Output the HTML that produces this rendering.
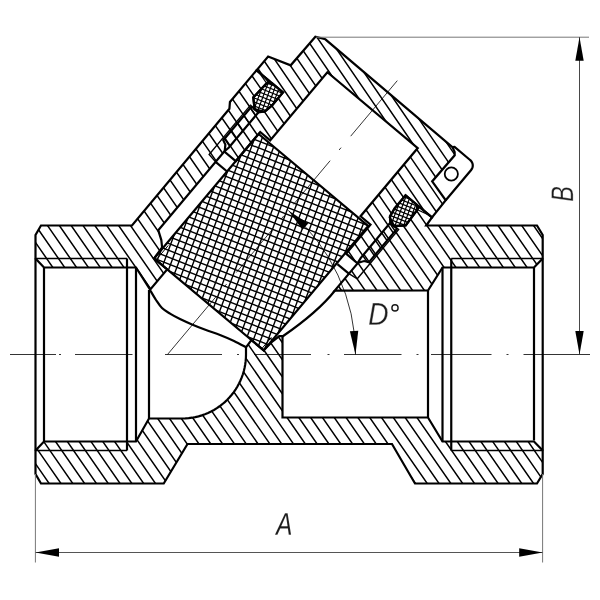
<!DOCTYPE html>
<html><head><meta charset="utf-8"><style>
html,body{margin:0;padding:0;background:#fff;}
svg{display:block;}
text{font-family:"Liberation Sans",sans-serif;font-style:italic;fill:#111;}
</style></head><body>
<svg width="600" height="600" viewBox="0 0 600 600">
<rect width="600" height="600" fill="#fff"/>
<defs><clipPath id="btl"><path d="M35.50 235.00 L41.00 225.50 L132.00 225.50 L229.41 108.81 L229.94 101.95 L256.55 70.24 L269.19 80.84 L253.26 97.50 L254.63 109.09 L258.46 112.31 L228.89 147.54 L224.27 151.50 L158.26 230.17 L161.32 240.05 L162.10 247.37 L154.13 258.43 L167.15 269.35 L150.11 289.65 L136.00 267.50 L44.00 267.50 L35.50 258.50 Z"/></clipPath>
<clipPath id="bbot"><path d="M35.50 450.50 L44.00 441.50 L136.00 441.50 L149.00 418.50 L182.00 418.50 L185.35 418.41 L188.69 418.15 L192.01 417.71 L195.31 417.10 L198.56 416.32 L201.78 415.37 L204.94 414.25 L208.03 412.97 L211.06 411.52 L214.00 409.93 L216.86 408.17 L219.62 406.28 L222.28 404.24 L224.82 402.06 L227.25 399.75 L229.56 397.32 L231.74 394.78 L233.78 392.12 L235.67 389.36 L237.43 386.50 L239.02 383.56 L240.47 380.53 L241.75 377.44 L242.87 374.28 L243.82 371.06 L244.60 367.81 L245.21 364.51 L245.65 361.19 L245.91 357.85 L246.00 354.50 L246.00 347.30 L251.41 340.06 L263.67 350.35 L272.60 341.26 L279.31 336.06 L282.50 336.00 L282.50 417.50 L428.00 417.50 L442.50 441.50 L534.00 441.50 L542.70 450.50 L542.70 474.00 L537.00 483.50 L415.00 483.50 L392.00 444.00 L187.50 444.00 L163.75 483.50 L41.00 483.50 L35.50 474.00 Z"/></clipPath>
<clipPath id="btr"><path d="M426.25 225.50 L537.00 225.50 L542.70 235.00 L542.70 258.50 L534.00 267.50 L442.50 267.50 L428.00 290.50 L334.74 290.54 L357.56 263.34 L360.65 258.10 L390.22 222.86 L394.05 226.08 L405.70 225.41 L419.34 206.83 L431.98 217.44 Z"/></clipPath>
<clipPath id="cap"><path d="M315.37 36.70 L290.69 65.34 L268.12 56.45 L256.55 70.24 L282.98 92.41 L272.06 105.44 L265.12 111.37 L258.46 112.31 L251.57 106.52 L223.28 140.23 L225.37 144.59 L224.65 151.82 L235.76 161.14 L260.19 132.03 L270.14 140.39 L327.35 72.21 L417.75 148.06 L360.54 216.23 L370.50 224.59 L346.07 253.70 L357.18 263.02 L364.18 261.06 L368.83 262.36 L397.11 228.65 L390.22 222.86 L389.99 216.14 L394.62 208.28 L405.55 195.26 L431.98 217.44 L445.74 200.26 L432.16 181.43 L454.72 155.33 L454.65 152.00 L452.45 147.15 L325.33 39.31 Z"/></clipPath>
<clipPath id="mesh"><path d="M154.13 258.43 L263.67 350.35 L368.12 225.86 L258.58 133.94 Z"/></clipPath>
<clipPath id="orl"><path d="M282.98 92.41 L271.49 82.77 L266.24 83.59 L253.26 97.50 L254.63 109.09 L264.10 111.81 L272.06 105.44 Z"/></clipPath>
<clipPath id="orr"><path d="M405.55 195.26 L417.04 204.90 L417.15 210.22 L405.70 225.41 L394.05 226.08 L389.73 217.23 L394.62 208.28 Z"/></clipPath></defs>
<g clip-path="url(#btl)"><path d="M-417.12 0.00 L-1.19 600.00 M-405.26 0.00 L10.66 600.00 M-393.40 0.00 L22.52 600.00 M-381.55 0.00 L34.38 600.00 M-369.69 0.00 L46.23 600.00 M-357.84 0.00 L58.09 600.00 M-345.98 0.00 L69.94 600.00 M-334.12 0.00 L81.80 600.00 M-322.27 0.00 L93.66 600.00 M-310.41 0.00 L105.51 600.00 M-298.56 0.00 L117.37 600.00 M-286.70 0.00 L129.22 600.00 M-274.84 0.00 L141.08 600.00 M-262.99 0.00 L152.94 600.00 M-251.13 0.00 L164.79 600.00 M-239.28 0.00 L176.65 600.00 M-227.42 0.00 L188.50 600.00 M-215.56 0.00 L200.36 600.00 M-203.71 0.00 L212.22 600.00 M-191.85 0.00 L224.07 600.00 M-180.00 0.00 L235.93 600.00 M-168.14 0.00 L247.78 600.00 M-156.28 0.00 L259.64 600.00 M-144.43 0.00 L271.50 600.00 M-132.57 0.00 L283.35 600.00 M-120.72 0.00 L295.21 600.00 M-108.86 0.00 L307.06 600.00 M-97.00 0.00 L318.92 600.00 M-85.15 0.00 L330.78 600.00 M-73.29 0.00 L342.63 600.00 M-61.44 0.00 L354.49 600.00 M-49.58 0.00 L366.34 600.00 M-37.72 0.00 L378.20 600.00 M-25.87 0.00 L390.06 600.00 M-14.01 0.00 L401.91 600.00 M-2.16 0.00 L413.77 600.00 M9.70 0.00 L425.62 600.00 M21.56 0.00 L437.48 600.00 M33.41 0.00 L449.34 600.00 M45.27 0.00 L461.19 600.00 M57.12 0.00 L473.05 600.00 M68.98 0.00 L484.90 600.00 M80.84 0.00 L496.76 600.00 M92.69 0.00 L508.62 600.00 M104.55 0.00 L520.47 600.00 M116.40 0.00 L532.33 600.00 M128.26 0.00 L544.18 600.00 M140.12 0.00 L556.04 600.00 M151.97 0.00 L567.90 600.00 M163.83 0.00 L579.75 600.00 M175.68 0.00 L591.61 600.00 M187.54 0.00 L603.46 600.00 M199.40 0.00 L615.32 600.00 M211.25 0.00 L627.18 600.00 M223.11 0.00 L639.03 600.00 M234.96 0.00 L650.89 600.00 M246.82 0.00 L662.74 600.00 M258.68 0.00 L674.60 600.00 M270.53 0.00 L686.46 600.00 M282.39 0.00 L698.31 600.00 M294.24 0.00 L710.17 600.00 M306.10 0.00 L722.02 600.00 M317.96 0.00 L733.88 600.00 M329.81 0.00 L745.74 600.00 M341.67 0.00 L757.59 600.00 M353.52 0.00 L769.45 600.00 M365.38 0.00 L781.30 600.00 M377.24 0.00 L793.16 600.00 M389.09 0.00 L805.02 600.00 M400.95 0.00 L816.87 600.00 M412.80 0.00 L828.73 600.00 M424.66 0.00 L840.58 600.00 M436.52 0.00 L852.44 600.00 M448.37 0.00 L864.30 600.00 M460.23 0.00 L876.15 600.00 M472.08 0.00 L888.01 600.00 M483.94 0.00 L899.86 600.00 M495.80 0.00 L911.72 600.00 M507.65 0.00 L923.58 600.00 M519.51 0.00 L935.43 600.00 M531.36 0.00 L947.29 600.00 M543.22 0.00 L959.14 600.00 M555.08 0.00 L971.00 600.00 M566.93 0.00 L982.86 600.00 M578.79 0.00 L994.71 600.00 M590.64 0.00 L1006.57 600.00 M602.50 0.00 L1018.42 600.00" stroke="#000" stroke-width="1.5" fill="none" /></g>
<g clip-path="url(#bbot)"><path d="M-415.95 0.00 L-0.03 600.00 M-404.13 0.00 L11.79 600.00 M-392.32 0.00 L23.60 600.00 M-380.50 0.00 L35.42 600.00 M-368.69 0.00 L47.23 600.00 M-356.88 0.00 L59.05 600.00 M-345.06 0.00 L70.86 600.00 M-333.25 0.00 L82.68 600.00 M-321.43 0.00 L94.49 600.00 M-309.62 0.00 L106.31 600.00 M-297.80 0.00 L118.12 600.00 M-285.99 0.00 L129.94 600.00 M-274.17 0.00 L141.75 600.00 M-262.36 0.00 L153.57 600.00 M-250.54 0.00 L165.38 600.00 M-238.72 0.00 L177.20 600.00 M-226.91 0.00 L189.01 600.00 M-215.09 0.00 L200.83 600.00 M-203.28 0.00 L212.64 600.00 M-191.46 0.00 L224.46 600.00 M-179.65 0.00 L236.27 600.00 M-167.83 0.00 L248.09 600.00 M-156.02 0.00 L259.90 600.00 M-144.20 0.00 L271.72 600.00 M-132.39 0.00 L283.53 600.00 M-120.58 0.00 L295.35 600.00 M-108.76 0.00 L307.16 600.00 M-96.94 0.00 L318.98 600.00 M-85.13 0.00 L330.79 600.00 M-73.31 0.00 L342.61 600.00 M-61.50 0.00 L354.42 600.00 M-49.68 0.00 L366.24 600.00 M-37.87 0.00 L378.05 600.00 M-26.05 0.00 L389.87 600.00 M-14.24 0.00 L401.68 600.00 M-2.42 0.00 L413.50 600.00 M9.39 0.00 L425.31 600.00 M21.20 0.00 L437.13 600.00 M33.02 0.00 L448.94 600.00 M44.84 0.00 L460.76 600.00 M56.65 0.00 L472.57 600.00 M68.47 0.00 L484.39 600.00 M80.28 0.00 L496.20 600.00 M92.09 0.00 L508.02 600.00 M103.91 0.00 L519.83 600.00 M115.72 0.00 L531.65 600.00 M127.54 0.00 L543.46 600.00 M139.36 0.00 L555.28 600.00 M151.17 0.00 L567.09 600.00 M162.99 0.00 L578.91 600.00 M174.80 0.00 L590.72 600.00 M186.62 0.00 L602.54 600.00 M198.43 0.00 L614.35 600.00 M210.25 0.00 L626.17 600.00 M222.06 0.00 L637.98 600.00 M233.88 0.00 L649.80 600.00 M245.69 0.00 L661.61 600.00 M257.50 0.00 L673.43 600.00 M269.32 0.00 L685.24 600.00 M281.13 0.00 L697.06 600.00 M292.95 0.00 L708.87 600.00 M304.76 0.00 L720.69 600.00 M316.58 0.00 L732.50 600.00 M328.39 0.00 L744.32 600.00 M340.21 0.00 L756.13 600.00 M352.02 0.00 L767.95 600.00 M363.84 0.00 L779.76 600.00 M375.65 0.00 L791.58 600.00 M387.47 0.00 L803.39 600.00 M399.28 0.00 L815.21 600.00 M411.10 0.00 L827.02 600.00 M422.91 0.00 L838.84 600.00 M434.73 0.00 L850.65 600.00 M446.54 0.00 L862.47 600.00 M458.36 0.00 L874.28 600.00 M470.17 0.00 L886.10 600.00 M481.99 0.00 L897.91 600.00 M493.80 0.00 L909.73 600.00 M505.62 0.00 L921.54 600.00 M517.43 0.00 L933.36 600.00 M529.25 0.00 L945.17 600.00 M541.06 0.00 L956.99 600.00 M552.88 0.00 L968.80 600.00 M564.69 0.00 L980.62 600.00 M576.51 0.00 L992.43 600.00 M588.32 0.00 L1004.25 600.00 M600.14 0.00 L1016.06 600.00" stroke="#000" stroke-width="1.5" fill="none" /></g>
<g clip-path="url(#btr)"><path d="M-417.12 0.00 L-1.19 600.00 M-405.26 0.00 L10.66 600.00 M-393.40 0.00 L22.52 600.00 M-381.55 0.00 L34.38 600.00 M-369.69 0.00 L46.23 600.00 M-357.84 0.00 L58.09 600.00 M-345.98 0.00 L69.94 600.00 M-334.12 0.00 L81.80 600.00 M-322.27 0.00 L93.66 600.00 M-310.41 0.00 L105.51 600.00 M-298.56 0.00 L117.37 600.00 M-286.70 0.00 L129.22 600.00 M-274.84 0.00 L141.08 600.00 M-262.99 0.00 L152.94 600.00 M-251.13 0.00 L164.79 600.00 M-239.28 0.00 L176.65 600.00 M-227.42 0.00 L188.50 600.00 M-215.56 0.00 L200.36 600.00 M-203.71 0.00 L212.22 600.00 M-191.85 0.00 L224.07 600.00 M-180.00 0.00 L235.93 600.00 M-168.14 0.00 L247.78 600.00 M-156.28 0.00 L259.64 600.00 M-144.43 0.00 L271.50 600.00 M-132.57 0.00 L283.35 600.00 M-120.72 0.00 L295.21 600.00 M-108.86 0.00 L307.06 600.00 M-97.00 0.00 L318.92 600.00 M-85.15 0.00 L330.78 600.00 M-73.29 0.00 L342.63 600.00 M-61.44 0.00 L354.49 600.00 M-49.58 0.00 L366.34 600.00 M-37.72 0.00 L378.20 600.00 M-25.87 0.00 L390.06 600.00 M-14.01 0.00 L401.91 600.00 M-2.16 0.00 L413.77 600.00 M9.70 0.00 L425.62 600.00 M21.56 0.00 L437.48 600.00 M33.41 0.00 L449.34 600.00 M45.27 0.00 L461.19 600.00 M57.12 0.00 L473.05 600.00 M68.98 0.00 L484.90 600.00 M80.84 0.00 L496.76 600.00 M92.69 0.00 L508.62 600.00 M104.55 0.00 L520.47 600.00 M116.40 0.00 L532.33 600.00 M128.26 0.00 L544.18 600.00 M140.12 0.00 L556.04 600.00 M151.97 0.00 L567.90 600.00 M163.83 0.00 L579.75 600.00 M175.68 0.00 L591.61 600.00 M187.54 0.00 L603.46 600.00 M199.40 0.00 L615.32 600.00 M211.25 0.00 L627.18 600.00 M223.11 0.00 L639.03 600.00 M234.96 0.00 L650.89 600.00 M246.82 0.00 L662.74 600.00 M258.68 0.00 L674.60 600.00 M270.53 0.00 L686.46 600.00 M282.39 0.00 L698.31 600.00 M294.24 0.00 L710.17 600.00 M306.10 0.00 L722.02 600.00 M317.96 0.00 L733.88 600.00 M329.81 0.00 L745.74 600.00 M341.67 0.00 L757.59 600.00 M353.52 0.00 L769.45 600.00 M365.38 0.00 L781.30 600.00 M377.24 0.00 L793.16 600.00 M389.09 0.00 L805.02 600.00 M400.95 0.00 L816.87 600.00 M412.80 0.00 L828.73 600.00 M424.66 0.00 L840.58 600.00 M436.52 0.00 L852.44 600.00 M448.37 0.00 L864.30 600.00 M460.23 0.00 L876.15 600.00 M472.08 0.00 L888.01 600.00 M483.94 0.00 L899.86 600.00 M495.80 0.00 L911.72 600.00 M507.65 0.00 L923.58 600.00 M519.51 0.00 L935.43 600.00 M531.36 0.00 L947.29 600.00 M543.22 0.00 L959.14 600.00 M555.08 0.00 L971.00 600.00 M566.93 0.00 L982.86 600.00 M578.79 0.00 L994.71 600.00 M590.64 0.00 L1006.57 600.00 M602.50 0.00 L1018.42 600.00" stroke="#000" stroke-width="1.5" fill="none" /></g>
<g clip-path="url(#cap)"><path d="M-421.50 0.00 L-11.13 600.00 M-410.00 0.00 L0.37 600.00 M-398.50 0.00 L11.87 600.00 M-387.00 0.00 L23.37 600.00 M-375.50 0.00 L34.87 600.00 M-364.00 0.00 L46.37 600.00 M-352.50 0.00 L57.87 600.00 M-341.00 0.00 L69.37 600.00 M-329.50 0.00 L80.87 600.00 M-318.00 0.00 L92.37 600.00 M-306.50 0.00 L103.87 600.00 M-295.00 0.00 L115.37 600.00 M-283.50 0.00 L126.87 600.00 M-272.00 0.00 L138.37 600.00 M-260.50 0.00 L149.87 600.00 M-249.00 0.00 L161.37 600.00 M-237.50 0.00 L172.87 600.00 M-226.00 0.00 L184.37 600.00 M-214.50 0.00 L195.87 600.00 M-203.00 0.00 L207.37 600.00 M-191.50 0.00 L218.87 600.00 M-180.00 0.00 L230.37 600.00 M-168.50 0.00 L241.87 600.00 M-157.00 0.00 L253.37 600.00 M-145.50 0.00 L264.87 600.00 M-134.00 0.00 L276.37 600.00 M-122.50 0.00 L287.87 600.00 M-111.00 0.00 L299.37 600.00 M-99.50 0.00 L310.87 600.00 M-88.00 0.00 L322.37 600.00 M-76.50 0.00 L333.87 600.00 M-65.00 0.00 L345.37 600.00 M-53.50 0.00 L356.87 600.00 M-42.00 0.00 L368.37 600.00 M-30.50 0.00 L379.87 600.00 M-19.00 0.00 L391.37 600.00 M-7.50 0.00 L402.87 600.00 M4.00 0.00 L414.37 600.00 M15.50 0.00 L425.87 600.00 M27.00 0.00 L437.37 600.00 M38.50 0.00 L448.87 600.00 M50.00 0.00 L460.37 600.00 M61.50 0.00 L471.87 600.00 M73.00 0.00 L483.37 600.00 M84.50 0.00 L494.87 600.00 M96.00 0.00 L506.37 600.00 M107.50 0.00 L517.87 600.00 M119.00 0.00 L529.37 600.00 M130.50 0.00 L540.87 600.00 M142.00 0.00 L552.37 600.00 M153.50 0.00 L563.87 600.00 M165.00 0.00 L575.37 600.00 M176.50 0.00 L586.87 600.00 M188.00 0.00 L598.37 600.00 M199.50 0.00 L609.87 600.00 M211.00 0.00 L621.37 600.00 M222.50 0.00 L632.87 600.00 M234.00 0.00 L644.37 600.00 M245.50 0.00 L655.87 600.00 M257.00 0.00 L667.37 600.00 M268.50 0.00 L678.87 600.00 M280.00 0.00 L690.37 600.00 M291.50 0.00 L701.87 600.00 M303.00 0.00 L713.37 600.00 M314.50 0.00 L724.87 600.00 M326.00 0.00 L736.37 600.00 M337.50 0.00 L747.87 600.00 M349.00 0.00 L759.37 600.00 M360.50 0.00 L770.87 600.00 M372.00 0.00 L782.37 600.00 M383.50 0.00 L793.87 600.00 M395.00 0.00 L805.37 600.00 M406.50 0.00 L816.87 600.00 M418.00 0.00 L828.37 600.00 M429.50 0.00 L839.87 600.00 M441.00 0.00 L851.37 600.00 M452.50 0.00 L862.87 600.00 M464.00 0.00 L874.37 600.00 M475.50 0.00 L885.87 600.00 M487.00 0.00 L897.37 600.00 M498.50 0.00 L908.87 600.00 M510.00 0.00 L920.37 600.00 M521.50 0.00 L931.87 600.00 M533.00 0.00 L943.37 600.00 M544.50 0.00 L954.87 600.00 M556.00 0.00 L966.37 600.00 M567.50 0.00 L977.87 600.00 M579.00 0.00 L989.37 600.00 M590.50 0.00 L1000.87 600.00 M602.00 0.00 L1012.37 600.00" stroke="#000" stroke-width="1.5" fill="none" /></g>
<g clip-path="url(#mesh)"><path d="M-1534.40 0.00 L-11.21 600.00 M-1516.90 0.00 L6.29 600.00 M-1499.40 0.00 L23.79 600.00 M-1481.90 0.00 L41.29 600.00 M-1464.40 0.00 L58.79 600.00 M-1446.90 0.00 L76.29 600.00 M-1429.40 0.00 L93.79 600.00 M-1411.90 0.00 L111.29 600.00 M-1394.40 0.00 L128.79 600.00 M-1376.90 0.00 L146.29 600.00 M-1359.40 0.00 L163.79 600.00 M-1341.90 0.00 L181.29 600.00 M-1324.40 0.00 L198.79 600.00 M-1306.90 0.00 L216.29 600.00 M-1289.40 0.00 L233.79 600.00 M-1271.90 0.00 L251.29 600.00 M-1254.40 0.00 L268.79 600.00 M-1236.90 0.00 L286.29 600.00 M-1219.40 0.00 L303.79 600.00 M-1201.90 0.00 L321.29 600.00 M-1184.40 0.00 L338.79 600.00 M-1166.90 0.00 L356.29 600.00 M-1149.40 0.00 L373.79 600.00 M-1131.90 0.00 L391.29 600.00 M-1114.40 0.00 L408.79 600.00 M-1096.90 0.00 L426.29 600.00 M-1079.40 0.00 L443.79 600.00 M-1061.90 0.00 L461.29 600.00 M-1044.40 0.00 L478.79 600.00 M-1026.90 0.00 L496.29 600.00 M-1009.40 0.00 L513.79 600.00 M-991.90 0.00 L531.29 600.00 M-974.40 0.00 L548.79 600.00 M-956.90 0.00 L566.29 600.00 M-939.40 0.00 L583.79 600.00 M-921.90 0.00 L601.29 600.00 M-904.40 0.00 L618.79 600.00 M-886.90 0.00 L636.29 600.00 M-869.40 0.00 L653.79 600.00 M-851.90 0.00 L671.29 600.00 M-834.40 0.00 L688.79 600.00 M-816.90 0.00 L706.29 600.00 M-799.40 0.00 L723.79 600.00 M-781.90 0.00 L741.29 600.00 M-764.40 0.00 L758.79 600.00 M-746.90 0.00 L776.29 600.00 M-729.40 0.00 L793.79 600.00 M-711.90 0.00 L811.29 600.00 M-694.40 0.00 L828.79 600.00 M-676.90 0.00 L846.29 600.00 M-659.40 0.00 L863.79 600.00 M-641.90 0.00 L881.29 600.00 M-624.40 0.00 L898.79 600.00 M-606.90 0.00 L916.29 600.00 M-589.40 0.00 L933.79 600.00 M-571.90 0.00 L951.29 600.00 M-554.40 0.00 L968.79 600.00 M-536.90 0.00 L986.29 600.00 M-519.40 0.00 L1003.79 600.00 M-501.90 0.00 L1021.29 600.00 M-484.40 0.00 L1038.79 600.00 M-466.90 0.00 L1056.29 600.00 M-449.40 0.00 L1073.79 600.00 M-431.90 0.00 L1091.29 600.00 M-414.40 0.00 L1108.79 600.00 M-396.90 0.00 L1126.29 600.00 M-379.40 0.00 L1143.79 600.00 M-361.90 0.00 L1161.29 600.00 M-344.40 0.00 L1178.79 600.00 M-326.90 0.00 L1196.29 600.00 M-309.40 0.00 L1213.79 600.00 M-291.90 0.00 L1231.29 600.00 M-274.40 0.00 L1248.79 600.00 M-256.90 0.00 L1266.29 600.00 M-239.40 0.00 L1283.79 600.00 M-221.90 0.00 L1301.29 600.00 M-204.40 0.00 L1318.79 600.00 M-186.90 0.00 L1336.29 600.00 M-169.40 0.00 L1353.79 600.00 M-151.90 0.00 L1371.29 600.00 M-134.40 0.00 L1388.79 600.00 M-116.90 0.00 L1406.29 600.00 M-99.40 0.00 L1423.79 600.00 M-81.90 0.00 L1441.29 600.00 M-64.40 0.00 L1458.79 600.00 M-46.90 0.00 L1476.29 600.00 M-29.40 0.00 L1493.79 600.00 M-11.90 0.00 L1511.29 600.00 M5.60 0.00 L1528.79 600.00 M23.10 0.00 L1546.29 600.00 M40.60 0.00 L1563.79 600.00 M58.10 0.00 L1581.29 600.00 M75.60 0.00 L1598.79 600.00 M93.10 0.00 L1616.29 600.00 M110.60 0.00 L1633.79 600.00 M128.10 0.00 L1651.29 600.00 M145.60 0.00 L1668.79 600.00 M163.10 0.00 L1686.29 600.00 M180.60 0.00 L1703.79 600.00 M198.10 0.00 L1721.29 600.00 M215.60 0.00 L1738.79 600.00 M233.10 0.00 L1756.29 600.00 M250.60 0.00 L1773.79 600.00 M268.10 0.00 L1791.29 600.00 M285.60 0.00 L1808.79 600.00 M303.10 0.00 L1826.29 600.00 M320.60 0.00 L1843.79 600.00 M338.10 0.00 L1861.29 600.00 M355.60 0.00 L1878.79 600.00 M373.10 0.00 L1896.29 600.00 M390.60 0.00 L1913.79 600.00 M408.10 0.00 L1931.29 600.00 M425.60 0.00 L1948.79 600.00 M443.10 0.00 L1966.29 600.00 M460.60 0.00 L1983.79 600.00 M478.10 0.00 L2001.29 600.00 M495.60 0.00 L2018.79 600.00 M513.10 0.00 L2036.29 600.00 M530.60 0.00 L2053.79 600.00 M548.10 0.00 L2071.29 600.00 M565.60 0.00 L2088.79 600.00 M583.10 0.00 L2106.29 600.00 M600.60 0.00 L2123.79 600.00" stroke="#000" stroke-width="1.4" fill="none" /><path d="M-4.40 0.00 L-228.73 600.00 M3.00 0.00 L-221.33 600.00 M10.40 0.00 L-213.93 600.00 M17.80 0.00 L-206.53 600.00 M25.20 0.00 L-199.13 600.00 M32.60 0.00 L-191.73 600.00 M40.00 0.00 L-184.33 600.00 M47.40 0.00 L-176.93 600.00 M54.80 0.00 L-169.53 600.00 M62.20 0.00 L-162.13 600.00 M69.60 0.00 L-154.73 600.00 M77.00 0.00 L-147.33 600.00 M84.40 0.00 L-139.93 600.00 M91.80 0.00 L-132.53 600.00 M99.20 0.00 L-125.13 600.00 M106.60 0.00 L-117.73 600.00 M114.00 0.00 L-110.33 600.00 M121.40 0.00 L-102.93 600.00 M128.80 0.00 L-95.53 600.00 M136.20 0.00 L-88.13 600.00 M143.60 0.00 L-80.73 600.00 M151.00 0.00 L-73.33 600.00 M158.40 0.00 L-65.93 600.00 M165.80 0.00 L-58.53 600.00 M173.20 0.00 L-51.13 600.00 M180.60 0.00 L-43.73 600.00 M188.00 0.00 L-36.33 600.00 M195.40 0.00 L-28.93 600.00 M202.80 0.00 L-21.53 600.00 M210.20 0.00 L-14.13 600.00 M217.60 0.00 L-6.73 600.00 M225.00 0.00 L0.67 600.00 M232.40 0.00 L8.07 600.00 M239.80 0.00 L15.47 600.00 M247.20 0.00 L22.87 600.00 M254.60 0.00 L30.27 600.00 M262.00 0.00 L37.67 600.00 M269.40 0.00 L45.07 600.00 M276.80 0.00 L52.47 600.00 M284.20 0.00 L59.87 600.00 M291.60 0.00 L67.27 600.00 M299.00 0.00 L74.67 600.00 M306.40 0.00 L82.07 600.00 M313.80 0.00 L89.47 600.00 M321.20 0.00 L96.87 600.00 M328.60 0.00 L104.27 600.00 M336.00 0.00 L111.67 600.00 M343.40 0.00 L119.07 600.00 M350.80 0.00 L126.47 600.00 M358.20 0.00 L133.87 600.00 M365.60 0.00 L141.27 600.00 M373.00 0.00 L148.67 600.00 M380.40 0.00 L156.07 600.00 M387.80 0.00 L163.47 600.00 M395.20 0.00 L170.87 600.00 M402.60 0.00 L178.27 600.00 M410.00 0.00 L185.67 600.00 M417.40 0.00 L193.07 600.00 M424.80 0.00 L200.47 600.00 M432.20 0.00 L207.87 600.00 M439.60 0.00 L215.27 600.00 M447.00 0.00 L222.67 600.00 M454.40 0.00 L230.07 600.00 M461.80 0.00 L237.47 600.00 M469.20 0.00 L244.87 600.00 M476.60 0.00 L252.27 600.00 M484.00 0.00 L259.67 600.00 M491.40 0.00 L267.07 600.00 M498.80 0.00 L274.47 600.00 M506.20 0.00 L281.87 600.00 M513.60 0.00 L289.27 600.00 M521.00 0.00 L296.67 600.00 M528.40 0.00 L304.07 600.00 M535.80 0.00 L311.47 600.00 M543.20 0.00 L318.87 600.00 M550.60 0.00 L326.27 600.00 M558.00 0.00 L333.67 600.00 M565.40 0.00 L341.07 600.00 M572.80 0.00 L348.47 600.00 M580.20 0.00 L355.87 600.00 M587.60 0.00 L363.27 600.00 M595.00 0.00 L370.67 600.00 M602.40 0.00 L378.07 600.00 M609.80 0.00 L385.47 600.00 M617.20 0.00 L392.87 600.00 M624.60 0.00 L400.27 600.00 M632.00 0.00 L407.67 600.00 M639.40 0.00 L415.07 600.00 M646.80 0.00 L422.47 600.00 M654.20 0.00 L429.87 600.00 M661.60 0.00 L437.27 600.00 M669.00 0.00 L444.67 600.00 M676.40 0.00 L452.07 600.00 M683.80 0.00 L459.47 600.00 M691.20 0.00 L466.87 600.00 M698.60 0.00 L474.27 600.00 M706.00 0.00 L481.67 600.00 M713.40 0.00 L489.07 600.00 M720.80 0.00 L496.47 600.00 M728.20 0.00 L503.87 600.00 M735.60 0.00 L511.27 600.00 M743.00 0.00 L518.67 600.00 M750.40 0.00 L526.07 600.00 M757.80 0.00 L533.47 600.00 M765.20 0.00 L540.87 600.00 M772.60 0.00 L548.27 600.00 M780.00 0.00 L555.67 600.00 M787.40 0.00 L563.07 600.00 M794.80 0.00 L570.47 600.00 M802.20 0.00 L577.87 600.00 M809.60 0.00 L585.27 600.00 M817.00 0.00 L592.67 600.00 M824.40 0.00 L600.07 600.00" stroke="#000" stroke-width="1.4" fill="none" /></g>
<g clip-path="url(#orl)"><path d="M-1527.05 0.00 L-3.86 600.00 M-1516.90 0.00 L6.29 600.00 M-1506.75 0.00 L16.44 600.00 M-1496.60 0.00 L26.59 600.00 M-1486.45 0.00 L36.74 600.00 M-1476.30 0.00 L46.89 600.00 M-1466.15 0.00 L57.04 600.00 M-1456.00 0.00 L67.19 600.00 M-1445.85 0.00 L77.34 600.00 M-1435.70 0.00 L87.49 600.00 M-1425.55 0.00 L97.64 600.00 M-1415.40 0.00 L107.79 600.00 M-1405.25 0.00 L117.94 600.00 M-1395.10 0.00 L128.09 600.00 M-1384.95 0.00 L138.24 600.00 M-1374.80 0.00 L148.39 600.00 M-1364.65 0.00 L158.54 600.00 M-1354.50 0.00 L168.69 600.00 M-1344.35 0.00 L178.84 600.00 M-1334.20 0.00 L188.99 600.00 M-1324.05 0.00 L199.14 600.00 M-1313.90 0.00 L209.29 600.00 M-1303.75 0.00 L219.44 600.00 M-1293.60 0.00 L229.59 600.00 M-1283.45 0.00 L239.74 600.00 M-1273.30 0.00 L249.89 600.00 M-1263.15 0.00 L260.04 600.00 M-1253.00 0.00 L270.19 600.00 M-1242.85 0.00 L280.34 600.00 M-1232.70 0.00 L290.49 600.00 M-1222.55 0.00 L300.64 600.00 M-1212.40 0.00 L310.79 600.00 M-1202.25 0.00 L320.94 600.00 M-1192.10 0.00 L331.09 600.00 M-1181.95 0.00 L341.24 600.00 M-1171.80 0.00 L351.39 600.00 M-1161.65 0.00 L361.54 600.00 M-1151.50 0.00 L371.69 600.00 M-1141.35 0.00 L381.84 600.00 M-1131.20 0.00 L391.99 600.00 M-1121.05 0.00 L402.14 600.00 M-1110.90 0.00 L412.29 600.00 M-1100.75 0.00 L422.44 600.00 M-1090.60 0.00 L432.59 600.00 M-1080.45 0.00 L442.74 600.00 M-1070.30 0.00 L452.89 600.00 M-1060.15 0.00 L463.04 600.00 M-1050.00 0.00 L473.19 600.00 M-1039.85 0.00 L483.34 600.00 M-1029.70 0.00 L493.49 600.00 M-1019.55 0.00 L503.64 600.00 M-1009.40 0.00 L513.79 600.00 M-999.25 0.00 L523.94 600.00 M-989.10 0.00 L534.09 600.00 M-978.95 0.00 L544.24 600.00 M-968.80 0.00 L554.39 600.00 M-958.65 0.00 L564.54 600.00 M-948.50 0.00 L574.69 600.00 M-938.35 0.00 L584.84 600.00 M-928.20 0.00 L594.99 600.00 M-918.05 0.00 L605.14 600.00 M-907.90 0.00 L615.29 600.00 M-897.75 0.00 L625.44 600.00 M-887.60 0.00 L635.59 600.00 M-877.45 0.00 L645.74 600.00 M-867.30 0.00 L655.89 600.00 M-857.15 0.00 L666.04 600.00 M-847.00 0.00 L676.19 600.00 M-836.85 0.00 L686.34 600.00 M-826.70 0.00 L696.49 600.00 M-816.55 0.00 L706.64 600.00 M-806.40 0.00 L716.79 600.00 M-796.25 0.00 L726.94 600.00 M-786.10 0.00 L737.09 600.00 M-775.95 0.00 L747.24 600.00 M-765.80 0.00 L757.39 600.00 M-755.65 0.00 L767.54 600.00 M-745.50 0.00 L777.69 600.00 M-735.35 0.00 L787.84 600.00 M-725.20 0.00 L797.99 600.00 M-715.05 0.00 L808.14 600.00 M-704.90 0.00 L818.29 600.00 M-694.75 0.00 L828.44 600.00 M-684.60 0.00 L838.59 600.00 M-674.45 0.00 L848.74 600.00 M-664.30 0.00 L858.89 600.00 M-654.15 0.00 L869.04 600.00 M-644.00 0.00 L879.19 600.00 M-633.85 0.00 L889.34 600.00 M-623.70 0.00 L899.49 600.00 M-613.55 0.00 L909.64 600.00 M-603.40 0.00 L919.79 600.00 M-593.25 0.00 L929.94 600.00 M-583.10 0.00 L940.09 600.00 M-572.95 0.00 L950.24 600.00 M-562.80 0.00 L960.39 600.00 M-552.65 0.00 L970.54 600.00 M-542.50 0.00 L980.69 600.00 M-532.35 0.00 L990.84 600.00 M-522.20 0.00 L1000.99 600.00 M-512.05 0.00 L1011.14 600.00 M-501.90 0.00 L1021.29 600.00 M-491.75 0.00 L1031.44 600.00 M-481.60 0.00 L1041.59 600.00 M-471.45 0.00 L1051.74 600.00 M-461.30 0.00 L1061.89 600.00 M-451.15 0.00 L1072.04 600.00 M-441.00 0.00 L1082.19 600.00 M-430.85 0.00 L1092.34 600.00 M-420.70 0.00 L1102.49 600.00 M-410.55 0.00 L1112.64 600.00 M-400.40 0.00 L1122.79 600.00 M-390.25 0.00 L1132.94 600.00 M-380.10 0.00 L1143.09 600.00 M-369.95 0.00 L1153.24 600.00 M-359.80 0.00 L1163.39 600.00 M-349.65 0.00 L1173.54 600.00 M-339.50 0.00 L1183.69 600.00 M-329.35 0.00 L1193.84 600.00 M-319.20 0.00 L1203.99 600.00 M-309.05 0.00 L1214.14 600.00 M-298.90 0.00 L1224.29 600.00 M-288.75 0.00 L1234.44 600.00 M-278.60 0.00 L1244.59 600.00 M-268.45 0.00 L1254.74 600.00 M-258.30 0.00 L1264.89 600.00 M-248.15 0.00 L1275.04 600.00 M-238.00 0.00 L1285.19 600.00 M-227.85 0.00 L1295.34 600.00 M-217.70 0.00 L1305.49 600.00 M-207.55 0.00 L1315.64 600.00 M-197.40 0.00 L1325.79 600.00 M-187.25 0.00 L1335.94 600.00 M-177.10 0.00 L1346.09 600.00 M-166.95 0.00 L1356.24 600.00 M-156.80 0.00 L1366.39 600.00 M-146.65 0.00 L1376.54 600.00 M-136.50 0.00 L1386.69 600.00 M-126.35 0.00 L1396.84 600.00 M-116.20 0.00 L1406.99 600.00 M-106.05 0.00 L1417.14 600.00 M-95.90 0.00 L1427.29 600.00 M-85.75 0.00 L1437.44 600.00 M-75.60 0.00 L1447.59 600.00 M-65.45 0.00 L1457.74 600.00 M-55.30 0.00 L1467.89 600.00 M-45.15 0.00 L1478.04 600.00 M-35.00 0.00 L1488.19 600.00 M-24.85 0.00 L1498.34 600.00 M-14.70 0.00 L1508.49 600.00 M-4.55 0.00 L1518.64 600.00 M5.60 0.00 L1528.79 600.00 M15.75 0.00 L1538.94 600.00 M25.90 0.00 L1549.09 600.00 M36.05 0.00 L1559.24 600.00 M46.20 0.00 L1569.39 600.00 M56.35 0.00 L1579.54 600.00 M66.50 0.00 L1589.69 600.00 M76.65 0.00 L1599.84 600.00 M86.80 0.00 L1609.99 600.00 M96.95 0.00 L1620.14 600.00 M107.10 0.00 L1630.29 600.00 M117.25 0.00 L1640.44 600.00 M127.40 0.00 L1650.59 600.00 M137.55 0.00 L1660.74 600.00 M147.70 0.00 L1670.89 600.00 M157.85 0.00 L1681.04 600.00 M168.00 0.00 L1691.19 600.00 M178.15 0.00 L1701.34 600.00 M188.30 0.00 L1711.49 600.00 M198.45 0.00 L1721.64 600.00 M208.60 0.00 L1731.79 600.00 M218.75 0.00 L1741.94 600.00 M228.90 0.00 L1752.09 600.00 M239.05 0.00 L1762.24 600.00 M249.20 0.00 L1772.39 600.00 M259.35 0.00 L1782.54 600.00 M269.50 0.00 L1792.69 600.00 M279.65 0.00 L1802.84 600.00 M289.80 0.00 L1812.99 600.00 M299.95 0.00 L1823.14 600.00 M310.10 0.00 L1833.29 600.00 M320.25 0.00 L1843.44 600.00 M330.40 0.00 L1853.59 600.00 M340.55 0.00 L1863.74 600.00 M350.70 0.00 L1873.89 600.00 M360.85 0.00 L1884.04 600.00 M371.00 0.00 L1894.19 600.00 M381.15 0.00 L1904.34 600.00 M391.30 0.00 L1914.49 600.00 M401.45 0.00 L1924.64 600.00 M411.60 0.00 L1934.79 600.00 M421.75 0.00 L1944.94 600.00 M431.90 0.00 L1955.09 600.00 M442.05 0.00 L1965.24 600.00 M452.20 0.00 L1975.39 600.00 M462.35 0.00 L1985.54 600.00 M472.50 0.00 L1995.69 600.00 M482.65 0.00 L2005.84 600.00 M492.80 0.00 L2015.99 600.00 M502.95 0.00 L2026.14 600.00 M513.10 0.00 L2036.29 600.00 M523.25 0.00 L2046.44 600.00 M533.40 0.00 L2056.59 600.00 M543.55 0.00 L2066.74 600.00 M553.70 0.00 L2076.89 600.00 M563.85 0.00 L2087.04 600.00 M574.00 0.00 L2097.19 600.00 M584.15 0.00 L2107.34 600.00 M594.30 0.00 L2117.49 600.00 M604.45 0.00 L2127.64 600.00" stroke="#000" stroke-width="1.2" fill="none" /><path d="M-1.29 0.00 L-225.62 600.00 M3.00 0.00 L-221.33 600.00 M7.29 0.00 L-217.04 600.00 M11.58 0.00 L-212.75 600.00 M15.88 0.00 L-208.45 600.00 M20.17 0.00 L-204.16 600.00 M24.46 0.00 L-199.87 600.00 M28.75 0.00 L-195.58 600.00 M33.04 0.00 L-191.29 600.00 M37.34 0.00 L-186.99 600.00 M41.63 0.00 L-182.70 600.00 M45.92 0.00 L-178.41 600.00 M50.21 0.00 L-174.12 600.00 M54.50 0.00 L-169.83 600.00 M58.80 0.00 L-165.53 600.00 M63.09 0.00 L-161.24 600.00 M67.38 0.00 L-156.95 600.00 M71.67 0.00 L-152.66 600.00 M75.96 0.00 L-148.37 600.00 M80.26 0.00 L-144.07 600.00 M84.55 0.00 L-139.78 600.00 M88.84 0.00 L-135.49 600.00 M93.13 0.00 L-131.20 600.00 M97.42 0.00 L-126.91 600.00 M101.72 0.00 L-122.61 600.00 M106.01 0.00 L-118.32 600.00 M110.30 0.00 L-114.03 600.00 M114.59 0.00 L-109.74 600.00 M118.88 0.00 L-105.45 600.00 M123.18 0.00 L-101.15 600.00 M127.47 0.00 L-96.86 600.00 M131.76 0.00 L-92.57 600.00 M136.05 0.00 L-88.28 600.00 M140.34 0.00 L-83.99 600.00 M144.64 0.00 L-79.69 600.00 M148.93 0.00 L-75.40 600.00 M153.22 0.00 L-71.11 600.00 M157.51 0.00 L-66.82 600.00 M161.80 0.00 L-62.53 600.00 M166.10 0.00 L-58.23 600.00 M170.39 0.00 L-53.94 600.00 M174.68 0.00 L-49.65 600.00 M178.97 0.00 L-45.36 600.00 M183.26 0.00 L-41.07 600.00 M187.56 0.00 L-36.77 600.00 M191.85 0.00 L-32.48 600.00 M196.14 0.00 L-28.19 600.00 M200.43 0.00 L-23.90 600.00 M204.72 0.00 L-19.61 600.00 M209.02 0.00 L-15.31 600.00 M213.31 0.00 L-11.02 600.00 M217.60 0.00 L-6.73 600.00 M221.89 0.00 L-2.44 600.00 M226.18 0.00 L1.85 600.00 M230.48 0.00 L6.15 600.00 M234.77 0.00 L10.44 600.00 M239.06 0.00 L14.73 600.00 M243.35 0.00 L19.02 600.00 M247.64 0.00 L23.31 600.00 M251.94 0.00 L27.61 600.00 M256.23 0.00 L31.90 600.00 M260.52 0.00 L36.19 600.00 M264.81 0.00 L40.48 600.00 M269.10 0.00 L44.77 600.00 M273.40 0.00 L49.07 600.00 M277.69 0.00 L53.36 600.00 M281.98 0.00 L57.65 600.00 M286.27 0.00 L61.94 600.00 M290.56 0.00 L66.23 600.00 M294.86 0.00 L70.53 600.00 M299.15 0.00 L74.82 600.00 M303.44 0.00 L79.11 600.00 M307.73 0.00 L83.40 600.00 M312.02 0.00 L87.69 600.00 M316.32 0.00 L91.99 600.00 M320.61 0.00 L96.28 600.00 M324.90 0.00 L100.57 600.00 M329.19 0.00 L104.86 600.00 M333.48 0.00 L109.15 600.00 M337.78 0.00 L113.45 600.00 M342.07 0.00 L117.74 600.00 M346.36 0.00 L122.03 600.00 M350.65 0.00 L126.32 600.00 M354.94 0.00 L130.61 600.00 M359.24 0.00 L134.91 600.00 M363.53 0.00 L139.20 600.00 M367.82 0.00 L143.49 600.00 M372.11 0.00 L147.78 600.00 M376.40 0.00 L152.07 600.00 M380.70 0.00 L156.37 600.00 M384.99 0.00 L160.66 600.00 M389.28 0.00 L164.95 600.00 M393.57 0.00 L169.24 600.00 M397.86 0.00 L173.53 600.00 M402.16 0.00 L177.83 600.00 M406.45 0.00 L182.12 600.00 M410.74 0.00 L186.41 600.00 M415.03 0.00 L190.70 600.00 M419.32 0.00 L194.99 600.00 M423.62 0.00 L199.29 600.00 M427.91 0.00 L203.58 600.00 M432.20 0.00 L207.87 600.00 M436.49 0.00 L212.16 600.00 M440.78 0.00 L216.45 600.00 M445.08 0.00 L220.75 600.00 M449.37 0.00 L225.04 600.00 M453.66 0.00 L229.33 600.00 M457.95 0.00 L233.62 600.00 M462.24 0.00 L237.91 600.00 M466.54 0.00 L242.21 600.00 M470.83 0.00 L246.50 600.00 M475.12 0.00 L250.79 600.00 M479.41 0.00 L255.08 600.00 M483.70 0.00 L259.37 600.00 M488.00 0.00 L263.67 600.00 M492.29 0.00 L267.96 600.00 M496.58 0.00 L272.25 600.00 M500.87 0.00 L276.54 600.00 M505.16 0.00 L280.83 600.00 M509.46 0.00 L285.13 600.00 M513.75 0.00 L289.42 600.00 M518.04 0.00 L293.71 600.00 M522.33 0.00 L298.00 600.00 M526.62 0.00 L302.29 600.00 M530.92 0.00 L306.59 600.00 M535.21 0.00 L310.88 600.00 M539.50 0.00 L315.17 600.00 M543.79 0.00 L319.46 600.00 M548.08 0.00 L323.75 600.00 M552.38 0.00 L328.05 600.00 M556.67 0.00 L332.34 600.00 M560.96 0.00 L336.63 600.00 M565.25 0.00 L340.92 600.00 M569.54 0.00 L345.21 600.00 M573.84 0.00 L349.51 600.00 M578.13 0.00 L353.80 600.00 M582.42 0.00 L358.09 600.00 M586.71 0.00 L362.38 600.00 M591.00 0.00 L366.67 600.00 M595.30 0.00 L370.97 600.00 M599.59 0.00 L375.26 600.00 M603.88 0.00 L379.55 600.00 M608.17 0.00 L383.84 600.00 M612.46 0.00 L388.13 600.00 M616.76 0.00 L392.43 600.00 M621.05 0.00 L396.72 600.00 M625.34 0.00 L401.01 600.00 M629.63 0.00 L405.30 600.00 M633.92 0.00 L409.59 600.00 M638.22 0.00 L413.89 600.00 M642.51 0.00 L418.18 600.00 M646.80 0.00 L422.47 600.00 M651.09 0.00 L426.76 600.00 M655.38 0.00 L431.05 600.00 M659.68 0.00 L435.35 600.00 M663.97 0.00 L439.64 600.00 M668.26 0.00 L443.93 600.00 M672.55 0.00 L448.22 600.00 M676.84 0.00 L452.51 600.00 M681.14 0.00 L456.81 600.00 M685.43 0.00 L461.10 600.00 M689.72 0.00 L465.39 600.00 M694.01 0.00 L469.68 600.00 M698.30 0.00 L473.97 600.00 M702.60 0.00 L478.27 600.00 M706.89 0.00 L482.56 600.00 M711.18 0.00 L486.85 600.00 M715.47 0.00 L491.14 600.00 M719.76 0.00 L495.43 600.00 M724.06 0.00 L499.73 600.00 M728.35 0.00 L504.02 600.00 M732.64 0.00 L508.31 600.00 M736.93 0.00 L512.60 600.00 M741.22 0.00 L516.89 600.00 M745.52 0.00 L521.19 600.00 M749.81 0.00 L525.48 600.00 M754.10 0.00 L529.77 600.00 M758.39 0.00 L534.06 600.00 M762.68 0.00 L538.35 600.00 M766.98 0.00 L542.65 600.00 M771.27 0.00 L546.94 600.00 M775.56 0.00 L551.23 600.00 M779.85 0.00 L555.52 600.00 M784.14 0.00 L559.81 600.00 M788.44 0.00 L564.11 600.00 M792.73 0.00 L568.40 600.00 M797.02 0.00 L572.69 600.00 M801.31 0.00 L576.98 600.00 M805.60 0.00 L581.27 600.00 M809.90 0.00 L585.57 600.00 M814.19 0.00 L589.86 600.00 M818.48 0.00 L594.15 600.00 M822.77 0.00 L598.44 600.00 M827.06 0.00 L602.73 600.00" stroke="#000" stroke-width="1.2" fill="none" /></g>
<g clip-path="url(#orr)"><path d="M-1527.05 0.00 L-3.86 600.00 M-1516.90 0.00 L6.29 600.00 M-1506.75 0.00 L16.44 600.00 M-1496.60 0.00 L26.59 600.00 M-1486.45 0.00 L36.74 600.00 M-1476.30 0.00 L46.89 600.00 M-1466.15 0.00 L57.04 600.00 M-1456.00 0.00 L67.19 600.00 M-1445.85 0.00 L77.34 600.00 M-1435.70 0.00 L87.49 600.00 M-1425.55 0.00 L97.64 600.00 M-1415.40 0.00 L107.79 600.00 M-1405.25 0.00 L117.94 600.00 M-1395.10 0.00 L128.09 600.00 M-1384.95 0.00 L138.24 600.00 M-1374.80 0.00 L148.39 600.00 M-1364.65 0.00 L158.54 600.00 M-1354.50 0.00 L168.69 600.00 M-1344.35 0.00 L178.84 600.00 M-1334.20 0.00 L188.99 600.00 M-1324.05 0.00 L199.14 600.00 M-1313.90 0.00 L209.29 600.00 M-1303.75 0.00 L219.44 600.00 M-1293.60 0.00 L229.59 600.00 M-1283.45 0.00 L239.74 600.00 M-1273.30 0.00 L249.89 600.00 M-1263.15 0.00 L260.04 600.00 M-1253.00 0.00 L270.19 600.00 M-1242.85 0.00 L280.34 600.00 M-1232.70 0.00 L290.49 600.00 M-1222.55 0.00 L300.64 600.00 M-1212.40 0.00 L310.79 600.00 M-1202.25 0.00 L320.94 600.00 M-1192.10 0.00 L331.09 600.00 M-1181.95 0.00 L341.24 600.00 M-1171.80 0.00 L351.39 600.00 M-1161.65 0.00 L361.54 600.00 M-1151.50 0.00 L371.69 600.00 M-1141.35 0.00 L381.84 600.00 M-1131.20 0.00 L391.99 600.00 M-1121.05 0.00 L402.14 600.00 M-1110.90 0.00 L412.29 600.00 M-1100.75 0.00 L422.44 600.00 M-1090.60 0.00 L432.59 600.00 M-1080.45 0.00 L442.74 600.00 M-1070.30 0.00 L452.89 600.00 M-1060.15 0.00 L463.04 600.00 M-1050.00 0.00 L473.19 600.00 M-1039.85 0.00 L483.34 600.00 M-1029.70 0.00 L493.49 600.00 M-1019.55 0.00 L503.64 600.00 M-1009.40 0.00 L513.79 600.00 M-999.25 0.00 L523.94 600.00 M-989.10 0.00 L534.09 600.00 M-978.95 0.00 L544.24 600.00 M-968.80 0.00 L554.39 600.00 M-958.65 0.00 L564.54 600.00 M-948.50 0.00 L574.69 600.00 M-938.35 0.00 L584.84 600.00 M-928.20 0.00 L594.99 600.00 M-918.05 0.00 L605.14 600.00 M-907.90 0.00 L615.29 600.00 M-897.75 0.00 L625.44 600.00 M-887.60 0.00 L635.59 600.00 M-877.45 0.00 L645.74 600.00 M-867.30 0.00 L655.89 600.00 M-857.15 0.00 L666.04 600.00 M-847.00 0.00 L676.19 600.00 M-836.85 0.00 L686.34 600.00 M-826.70 0.00 L696.49 600.00 M-816.55 0.00 L706.64 600.00 M-806.40 0.00 L716.79 600.00 M-796.25 0.00 L726.94 600.00 M-786.10 0.00 L737.09 600.00 M-775.95 0.00 L747.24 600.00 M-765.80 0.00 L757.39 600.00 M-755.65 0.00 L767.54 600.00 M-745.50 0.00 L777.69 600.00 M-735.35 0.00 L787.84 600.00 M-725.20 0.00 L797.99 600.00 M-715.05 0.00 L808.14 600.00 M-704.90 0.00 L818.29 600.00 M-694.75 0.00 L828.44 600.00 M-684.60 0.00 L838.59 600.00 M-674.45 0.00 L848.74 600.00 M-664.30 0.00 L858.89 600.00 M-654.15 0.00 L869.04 600.00 M-644.00 0.00 L879.19 600.00 M-633.85 0.00 L889.34 600.00 M-623.70 0.00 L899.49 600.00 M-613.55 0.00 L909.64 600.00 M-603.40 0.00 L919.79 600.00 M-593.25 0.00 L929.94 600.00 M-583.10 0.00 L940.09 600.00 M-572.95 0.00 L950.24 600.00 M-562.80 0.00 L960.39 600.00 M-552.65 0.00 L970.54 600.00 M-542.50 0.00 L980.69 600.00 M-532.35 0.00 L990.84 600.00 M-522.20 0.00 L1000.99 600.00 M-512.05 0.00 L1011.14 600.00 M-501.90 0.00 L1021.29 600.00 M-491.75 0.00 L1031.44 600.00 M-481.60 0.00 L1041.59 600.00 M-471.45 0.00 L1051.74 600.00 M-461.30 0.00 L1061.89 600.00 M-451.15 0.00 L1072.04 600.00 M-441.00 0.00 L1082.19 600.00 M-430.85 0.00 L1092.34 600.00 M-420.70 0.00 L1102.49 600.00 M-410.55 0.00 L1112.64 600.00 M-400.40 0.00 L1122.79 600.00 M-390.25 0.00 L1132.94 600.00 M-380.10 0.00 L1143.09 600.00 M-369.95 0.00 L1153.24 600.00 M-359.80 0.00 L1163.39 600.00 M-349.65 0.00 L1173.54 600.00 M-339.50 0.00 L1183.69 600.00 M-329.35 0.00 L1193.84 600.00 M-319.20 0.00 L1203.99 600.00 M-309.05 0.00 L1214.14 600.00 M-298.90 0.00 L1224.29 600.00 M-288.75 0.00 L1234.44 600.00 M-278.60 0.00 L1244.59 600.00 M-268.45 0.00 L1254.74 600.00 M-258.30 0.00 L1264.89 600.00 M-248.15 0.00 L1275.04 600.00 M-238.00 0.00 L1285.19 600.00 M-227.85 0.00 L1295.34 600.00 M-217.70 0.00 L1305.49 600.00 M-207.55 0.00 L1315.64 600.00 M-197.40 0.00 L1325.79 600.00 M-187.25 0.00 L1335.94 600.00 M-177.10 0.00 L1346.09 600.00 M-166.95 0.00 L1356.24 600.00 M-156.80 0.00 L1366.39 600.00 M-146.65 0.00 L1376.54 600.00 M-136.50 0.00 L1386.69 600.00 M-126.35 0.00 L1396.84 600.00 M-116.20 0.00 L1406.99 600.00 M-106.05 0.00 L1417.14 600.00 M-95.90 0.00 L1427.29 600.00 M-85.75 0.00 L1437.44 600.00 M-75.60 0.00 L1447.59 600.00 M-65.45 0.00 L1457.74 600.00 M-55.30 0.00 L1467.89 600.00 M-45.15 0.00 L1478.04 600.00 M-35.00 0.00 L1488.19 600.00 M-24.85 0.00 L1498.34 600.00 M-14.70 0.00 L1508.49 600.00 M-4.55 0.00 L1518.64 600.00 M5.60 0.00 L1528.79 600.00 M15.75 0.00 L1538.94 600.00 M25.90 0.00 L1549.09 600.00 M36.05 0.00 L1559.24 600.00 M46.20 0.00 L1569.39 600.00 M56.35 0.00 L1579.54 600.00 M66.50 0.00 L1589.69 600.00 M76.65 0.00 L1599.84 600.00 M86.80 0.00 L1609.99 600.00 M96.95 0.00 L1620.14 600.00 M107.10 0.00 L1630.29 600.00 M117.25 0.00 L1640.44 600.00 M127.40 0.00 L1650.59 600.00 M137.55 0.00 L1660.74 600.00 M147.70 0.00 L1670.89 600.00 M157.85 0.00 L1681.04 600.00 M168.00 0.00 L1691.19 600.00 M178.15 0.00 L1701.34 600.00 M188.30 0.00 L1711.49 600.00 M198.45 0.00 L1721.64 600.00 M208.60 0.00 L1731.79 600.00 M218.75 0.00 L1741.94 600.00 M228.90 0.00 L1752.09 600.00 M239.05 0.00 L1762.24 600.00 M249.20 0.00 L1772.39 600.00 M259.35 0.00 L1782.54 600.00 M269.50 0.00 L1792.69 600.00 M279.65 0.00 L1802.84 600.00 M289.80 0.00 L1812.99 600.00 M299.95 0.00 L1823.14 600.00 M310.10 0.00 L1833.29 600.00 M320.25 0.00 L1843.44 600.00 M330.40 0.00 L1853.59 600.00 M340.55 0.00 L1863.74 600.00 M350.70 0.00 L1873.89 600.00 M360.85 0.00 L1884.04 600.00 M371.00 0.00 L1894.19 600.00 M381.15 0.00 L1904.34 600.00 M391.30 0.00 L1914.49 600.00 M401.45 0.00 L1924.64 600.00 M411.60 0.00 L1934.79 600.00 M421.75 0.00 L1944.94 600.00 M431.90 0.00 L1955.09 600.00 M442.05 0.00 L1965.24 600.00 M452.20 0.00 L1975.39 600.00 M462.35 0.00 L1985.54 600.00 M472.50 0.00 L1995.69 600.00 M482.65 0.00 L2005.84 600.00 M492.80 0.00 L2015.99 600.00 M502.95 0.00 L2026.14 600.00 M513.10 0.00 L2036.29 600.00 M523.25 0.00 L2046.44 600.00 M533.40 0.00 L2056.59 600.00 M543.55 0.00 L2066.74 600.00 M553.70 0.00 L2076.89 600.00 M563.85 0.00 L2087.04 600.00 M574.00 0.00 L2097.19 600.00 M584.15 0.00 L2107.34 600.00 M594.30 0.00 L2117.49 600.00 M604.45 0.00 L2127.64 600.00" stroke="#000" stroke-width="1.2" fill="none" /><path d="M-1.29 0.00 L-225.62 600.00 M3.00 0.00 L-221.33 600.00 M7.29 0.00 L-217.04 600.00 M11.58 0.00 L-212.75 600.00 M15.88 0.00 L-208.45 600.00 M20.17 0.00 L-204.16 600.00 M24.46 0.00 L-199.87 600.00 M28.75 0.00 L-195.58 600.00 M33.04 0.00 L-191.29 600.00 M37.34 0.00 L-186.99 600.00 M41.63 0.00 L-182.70 600.00 M45.92 0.00 L-178.41 600.00 M50.21 0.00 L-174.12 600.00 M54.50 0.00 L-169.83 600.00 M58.80 0.00 L-165.53 600.00 M63.09 0.00 L-161.24 600.00 M67.38 0.00 L-156.95 600.00 M71.67 0.00 L-152.66 600.00 M75.96 0.00 L-148.37 600.00 M80.26 0.00 L-144.07 600.00 M84.55 0.00 L-139.78 600.00 M88.84 0.00 L-135.49 600.00 M93.13 0.00 L-131.20 600.00 M97.42 0.00 L-126.91 600.00 M101.72 0.00 L-122.61 600.00 M106.01 0.00 L-118.32 600.00 M110.30 0.00 L-114.03 600.00 M114.59 0.00 L-109.74 600.00 M118.88 0.00 L-105.45 600.00 M123.18 0.00 L-101.15 600.00 M127.47 0.00 L-96.86 600.00 M131.76 0.00 L-92.57 600.00 M136.05 0.00 L-88.28 600.00 M140.34 0.00 L-83.99 600.00 M144.64 0.00 L-79.69 600.00 M148.93 0.00 L-75.40 600.00 M153.22 0.00 L-71.11 600.00 M157.51 0.00 L-66.82 600.00 M161.80 0.00 L-62.53 600.00 M166.10 0.00 L-58.23 600.00 M170.39 0.00 L-53.94 600.00 M174.68 0.00 L-49.65 600.00 M178.97 0.00 L-45.36 600.00 M183.26 0.00 L-41.07 600.00 M187.56 0.00 L-36.77 600.00 M191.85 0.00 L-32.48 600.00 M196.14 0.00 L-28.19 600.00 M200.43 0.00 L-23.90 600.00 M204.72 0.00 L-19.61 600.00 M209.02 0.00 L-15.31 600.00 M213.31 0.00 L-11.02 600.00 M217.60 0.00 L-6.73 600.00 M221.89 0.00 L-2.44 600.00 M226.18 0.00 L1.85 600.00 M230.48 0.00 L6.15 600.00 M234.77 0.00 L10.44 600.00 M239.06 0.00 L14.73 600.00 M243.35 0.00 L19.02 600.00 M247.64 0.00 L23.31 600.00 M251.94 0.00 L27.61 600.00 M256.23 0.00 L31.90 600.00 M260.52 0.00 L36.19 600.00 M264.81 0.00 L40.48 600.00 M269.10 0.00 L44.77 600.00 M273.40 0.00 L49.07 600.00 M277.69 0.00 L53.36 600.00 M281.98 0.00 L57.65 600.00 M286.27 0.00 L61.94 600.00 M290.56 0.00 L66.23 600.00 M294.86 0.00 L70.53 600.00 M299.15 0.00 L74.82 600.00 M303.44 0.00 L79.11 600.00 M307.73 0.00 L83.40 600.00 M312.02 0.00 L87.69 600.00 M316.32 0.00 L91.99 600.00 M320.61 0.00 L96.28 600.00 M324.90 0.00 L100.57 600.00 M329.19 0.00 L104.86 600.00 M333.48 0.00 L109.15 600.00 M337.78 0.00 L113.45 600.00 M342.07 0.00 L117.74 600.00 M346.36 0.00 L122.03 600.00 M350.65 0.00 L126.32 600.00 M354.94 0.00 L130.61 600.00 M359.24 0.00 L134.91 600.00 M363.53 0.00 L139.20 600.00 M367.82 0.00 L143.49 600.00 M372.11 0.00 L147.78 600.00 M376.40 0.00 L152.07 600.00 M380.70 0.00 L156.37 600.00 M384.99 0.00 L160.66 600.00 M389.28 0.00 L164.95 600.00 M393.57 0.00 L169.24 600.00 M397.86 0.00 L173.53 600.00 M402.16 0.00 L177.83 600.00 M406.45 0.00 L182.12 600.00 M410.74 0.00 L186.41 600.00 M415.03 0.00 L190.70 600.00 M419.32 0.00 L194.99 600.00 M423.62 0.00 L199.29 600.00 M427.91 0.00 L203.58 600.00 M432.20 0.00 L207.87 600.00 M436.49 0.00 L212.16 600.00 M440.78 0.00 L216.45 600.00 M445.08 0.00 L220.75 600.00 M449.37 0.00 L225.04 600.00 M453.66 0.00 L229.33 600.00 M457.95 0.00 L233.62 600.00 M462.24 0.00 L237.91 600.00 M466.54 0.00 L242.21 600.00 M470.83 0.00 L246.50 600.00 M475.12 0.00 L250.79 600.00 M479.41 0.00 L255.08 600.00 M483.70 0.00 L259.37 600.00 M488.00 0.00 L263.67 600.00 M492.29 0.00 L267.96 600.00 M496.58 0.00 L272.25 600.00 M500.87 0.00 L276.54 600.00 M505.16 0.00 L280.83 600.00 M509.46 0.00 L285.13 600.00 M513.75 0.00 L289.42 600.00 M518.04 0.00 L293.71 600.00 M522.33 0.00 L298.00 600.00 M526.62 0.00 L302.29 600.00 M530.92 0.00 L306.59 600.00 M535.21 0.00 L310.88 600.00 M539.50 0.00 L315.17 600.00 M543.79 0.00 L319.46 600.00 M548.08 0.00 L323.75 600.00 M552.38 0.00 L328.05 600.00 M556.67 0.00 L332.34 600.00 M560.96 0.00 L336.63 600.00 M565.25 0.00 L340.92 600.00 M569.54 0.00 L345.21 600.00 M573.84 0.00 L349.51 600.00 M578.13 0.00 L353.80 600.00 M582.42 0.00 L358.09 600.00 M586.71 0.00 L362.38 600.00 M591.00 0.00 L366.67 600.00 M595.30 0.00 L370.97 600.00 M599.59 0.00 L375.26 600.00 M603.88 0.00 L379.55 600.00 M608.17 0.00 L383.84 600.00 M612.46 0.00 L388.13 600.00 M616.76 0.00 L392.43 600.00 M621.05 0.00 L396.72 600.00 M625.34 0.00 L401.01 600.00 M629.63 0.00 L405.30 600.00 M633.92 0.00 L409.59 600.00 M638.22 0.00 L413.89 600.00 M642.51 0.00 L418.18 600.00 M646.80 0.00 L422.47 600.00 M651.09 0.00 L426.76 600.00 M655.38 0.00 L431.05 600.00 M659.68 0.00 L435.35 600.00 M663.97 0.00 L439.64 600.00 M668.26 0.00 L443.93 600.00 M672.55 0.00 L448.22 600.00 M676.84 0.00 L452.51 600.00 M681.14 0.00 L456.81 600.00 M685.43 0.00 L461.10 600.00 M689.72 0.00 L465.39 600.00 M694.01 0.00 L469.68 600.00 M698.30 0.00 L473.97 600.00 M702.60 0.00 L478.27 600.00 M706.89 0.00 L482.56 600.00 M711.18 0.00 L486.85 600.00 M715.47 0.00 L491.14 600.00 M719.76 0.00 L495.43 600.00 M724.06 0.00 L499.73 600.00 M728.35 0.00 L504.02 600.00 M732.64 0.00 L508.31 600.00 M736.93 0.00 L512.60 600.00 M741.22 0.00 L516.89 600.00 M745.52 0.00 L521.19 600.00 M749.81 0.00 L525.48 600.00 M754.10 0.00 L529.77 600.00 M758.39 0.00 L534.06 600.00 M762.68 0.00 L538.35 600.00 M766.98 0.00 L542.65 600.00 M771.27 0.00 L546.94 600.00 M775.56 0.00 L551.23 600.00 M779.85 0.00 L555.52 600.00 M784.14 0.00 L559.81 600.00 M788.44 0.00 L564.11 600.00 M792.73 0.00 L568.40 600.00 M797.02 0.00 L572.69 600.00 M801.31 0.00 L576.98 600.00 M805.60 0.00 L581.27 600.00 M809.90 0.00 L585.57 600.00 M814.19 0.00 L589.86 600.00 M818.48 0.00 L594.15 600.00 M822.77 0.00 L598.44 600.00 M827.06 0.00 L602.73 600.00" stroke="#000" stroke-width="1.2" fill="none" /></g>
<path d="M35.50 235.00 L41.00 225.50 L132.00 225.50 L229.41 108.81 L229.94 101.95 L256.55 70.24 L269.19 80.84 L253.26 97.50 L254.63 109.09 L258.46 112.31 L228.89 147.54 L224.27 151.50 L158.26 230.17 L161.32 240.05 L162.10 247.37 L154.13 258.43 L167.15 269.35 L150.11 289.65 L136.00 267.50 L44.00 267.50 L35.50 258.50 Z" fill="none" stroke="#000" stroke-width="2.2" stroke-linejoin="miter"/>
<path d="M35.50 450.50 L44.00 441.50 L136.00 441.50 L149.00 418.50 L182.00 418.50 L185.35 418.41 L188.69 418.15 L192.01 417.71 L195.31 417.10 L198.56 416.32 L201.78 415.37 L204.94 414.25 L208.03 412.97 L211.06 411.52 L214.00 409.93 L216.86 408.17 L219.62 406.28 L222.28 404.24 L224.82 402.06 L227.25 399.75 L229.56 397.32 L231.74 394.78 L233.78 392.12 L235.67 389.36 L237.43 386.50 L239.02 383.56 L240.47 380.53 L241.75 377.44 L242.87 374.28 L243.82 371.06 L244.60 367.81 L245.21 364.51 L245.65 361.19 L245.91 357.85 L246.00 354.50 L246.00 347.30 L251.41 340.06 L263.67 350.35 L272.60 341.26 L279.31 336.06 L282.50 336.00 L282.50 417.50 L428.00 417.50 L442.50 441.50 L534.00 441.50 L542.70 450.50 L542.70 474.00 L537.00 483.50 L415.00 483.50 L392.00 444.00 L187.50 444.00 L163.75 483.50 L41.00 483.50 L35.50 474.00 Z" fill="none" stroke="#000" stroke-width="2.2" stroke-linejoin="miter"/>
<path d="M426.25 225.50 L537.00 225.50 L542.70 235.00 L542.70 258.50 L534.00 267.50 L442.50 267.50 L428.00 290.50 L334.74 290.54 L357.56 263.34 L360.65 258.10 L390.22 222.86 L394.05 226.08 L405.70 225.41 L419.34 206.83 L431.98 217.44 Z" fill="none" stroke="#000" stroke-width="2.2" stroke-linejoin="miter"/>
<path d="M315.37 36.70 L290.69 65.34 L268.12 56.45 L256.55 70.24 L282.98 92.41 L272.06 105.44 L265.12 111.37 L258.46 112.31 L251.57 106.52 L223.28 140.23 L225.37 144.59 L224.65 151.82 L235.76 161.14 L260.19 132.03 L270.14 140.39 L327.35 72.21 L417.75 148.06 L360.54 216.23 L370.50 224.59 L346.07 253.70 L357.18 263.02 L364.18 261.06 L368.83 262.36 L397.11 228.65 L390.22 222.86 L389.99 216.14 L394.62 208.28 L405.55 195.26 L431.98 217.44 L445.74 200.26 L432.16 181.43 L454.72 155.33 L454.65 152.00 L452.45 147.15 L325.33 39.31 Z" fill="none" stroke="#000" stroke-width="2.2" stroke-linejoin="miter"/>
<path d="M282.98 92.41 L271.49 82.77 L266.24 83.59 L253.26 97.50 L254.63 109.09 L264.10 111.81 L272.06 105.44 Z" fill="none" stroke="#000" stroke-width="2.2" stroke-linejoin="miter"/>
<path d="M405.55 195.26 L417.04 204.90 L417.15 210.22 L405.70 225.41 L394.05 226.08 L389.73 217.23 L394.62 208.28 Z" fill="none" stroke="#000" stroke-width="2.2" stroke-linejoin="miter"/>
<path d="M154.13 258.43 L263.67 350.35 L368.12 225.86 L258.58 133.94 Z" fill="none" stroke="#000" stroke-width="2.2" stroke-linejoin="miter"/>
<path d="M35.50 258.50 L127.00 258.50" stroke="#000" stroke-width="1.5" fill="none" />
<path d="M35.50 450.50 L127.00 450.50" stroke="#000" stroke-width="1.5" fill="none" />
<path d="M451.25 258.50 L542.70 258.50" stroke="#000" stroke-width="1.5" fill="none" />
<path d="M451.25 450.50 L542.70 450.50" stroke="#000" stroke-width="1.5" fill="none" />
<path d="M35.50 258.50 L35.50 450.50" stroke="#000" stroke-width="2.2" fill="none" />
<path d="M44.00 267.50 L44.00 441.50" stroke="#000" stroke-width="2.2" fill="none" />
<path d="M127.00 258.50 L127.00 450.50" stroke="#000" stroke-width="2.2" fill="none" />
<path d="M136.00 267.50 L136.00 441.50" stroke="#000" stroke-width="2.2" fill="none" />
<path d="M149.00 290.00 L149.00 418.50" stroke="#000" stroke-width="2.2" fill="none" />
<path d="M542.70 258.50 L542.70 450.50" stroke="#000" stroke-width="2.2" fill="none" />
<path d="M534.00 267.50 L534.00 440.50" stroke="#000" stroke-width="2.2" fill="none" />
<path d="M451.25 258.50 L451.25 450.50" stroke="#000" stroke-width="2.2" fill="none" />
<path d="M442.50 267.50 L442.50 441.50" stroke="#000" stroke-width="2.2" fill="none" />
<path d="M428.00 290.50 L428.00 417.50" stroke="#000" stroke-width="2.2" fill="none" />
<path d="M215.59 161.84 L227.08 171.48" stroke="#000" stroke-width="2.2" fill="none" />
<path d="M348.88 273.68 L337.39 264.04" stroke="#000" stroke-width="2.2" fill="none" />
<path d="M215.59 161.84 L209.13 154.45 L221.98 139.13" stroke="#000" stroke-width="1.4" fill="none" />
<path d="M348.88 273.68 L357.28 278.77 L370.13 263.45" stroke="#000" stroke-width="1.4" fill="none" />
<path d="M221.34 139.90 L250.91 104.66" stroke="#000" stroke-width="1.4" fill="none" />
<path d="M369.49 264.21 L399.06 228.98" stroke="#000" stroke-width="1.4" fill="none" />
<path d="M258.85 72.17 L266.94 83.53" stroke="#000" stroke-width="1.2" fill="none" />
<path d="M429.68 215.51 L417.09 209.51" stroke="#000" stroke-width="1.2" fill="none" />
<path d="M452.45 147.15 L454.56 146.96 L469.50 159.50 L470.26 160.14 L471.13 161.00 L471.83 162.00 L472.34 163.11 L472.66 164.29 L472.76 165.50 L472.66 166.72 L472.34 167.90 L471.83 169.00 L471.13 170.00 L445.74 200.26" stroke="#000" stroke-width="2.2" fill="none" />
<circle cx="451.32" cy="174.01" r="6.6" fill="none" stroke="#000" stroke-width="1.8"/>
<path d="M150.00 290.00 C151.00 291.67 154.00 297.00 156.00 300.00 C158.00 303.00 159.67 305.73 162.00 308.00 C164.33 310.27 167.00 311.77 170.00 313.60 C173.00 315.43 176.33 317.20 180.00 319.00 C183.67 320.80 187.67 322.57 192.00 324.40 C196.33 326.23 201.33 328.23 206.00 330.00 C210.67 331.77 215.33 333.17 220.00 335.00 C224.67 336.83 229.67 338.95 234.00 341.00 C238.33 343.05 244.00 346.25 246.00 347.30" stroke="#000" stroke-width="2.2" fill="none" stroke-linejoin="round"/>
<path d="M335 290.5 Q318 312 282.5 336.5" stroke="#000" stroke-width="2.2" fill="none" />
<path d="M156.04 260.03 L168.25 245.48" stroke="#000" stroke-width="1.0" fill="none" />
<path d="M261.76 348.74 L271.40 337.25" stroke="#000" stroke-width="1.0" fill="none" />
<path d="M10.0 354.5 L56.0 354.5 M59.0 354.5 L61.0 354.5 M75.0 354.5 L132.5 354.5 M148.0 354.5 L150.0 354.5 M165.0 354.5 L222.0 354.5 M237.0 354.5 L239.0 354.5 M254.0 354.5 L311.0 354.5 M327.5 354.5 L329.5 354.5 M344.0 354.5 L401.5 354.5 M416.5 354.5 L418.5 354.5 M431.0 354.5 L491.5 354.5 M506.5 354.5 L508.5 354.5 M523.5 354.5 L590.0 354.5" stroke="#000" stroke-width="0.8" fill="none" />
<path d="M167.50 354.50 L215.71 297.05 M224.07 287.09 L226.64 284.02 M236.28 272.53 L272.92 228.87 M281.27 218.91 L283.84 215.85 M293.49 204.36 L330.13 160.69 M339.12 149.97 L341.05 147.67 M350.69 136.18 L397.30 80.64" stroke="#000" stroke-width="0.8" fill="none" />
<path d="M35.40 474.00 L35.40 562.50" stroke="#777" stroke-width="1.0" fill="none" />
<path d="M542.60 474.00 L542.60 562.50" stroke="#777" stroke-width="1.0" fill="none" />
<path d="M35.50 552.50 L542.70 552.50" stroke="#555" stroke-width="1.0" fill="none" />
<path d="M35.50 552.50 L59.00 548.30 L59.00 556.70 Z" fill="#000"/>
<path d="M542.70 552.50 L519.20 556.70 L519.20 548.30 Z" fill="#000"/>
<path d="M316.00 37.20 L589.00 37.20" stroke="#777" stroke-width="1.0" fill="none" />
<path d="M579.50 37.20 L579.50 354.50" stroke="#333" stroke-width="0.9" fill="none" />
<path d="M579.50 37.20 L583.70 60.70 L575.30 60.70 Z" fill="#000"/>
<path d="M579.50 354.50 L575.30 331.00 L583.70 331.00 Z" fill="#000"/>
<path d="M355.50 354.50 A188 188 0 0 0 288.34 210.48" stroke="#000" stroke-width="0.8" fill="none" />
<path d="M355.50 354.50 L349.87 331.30 L358.26 330.79 Z" fill="#000"/>
<path d="M288.34 210.48 L308.28 223.61 L302.50 229.71 Z" fill="#000"/>
<path transform="translate(274.925,534.675) scale(0.011901,-0.015224) translate(101.0,0.0)" d="M1061 0 986 412H347L107 0H-101L747 1409H964L1256 0ZM830 1265Q817 1239 793.0 1196.0Q769 1153 431 561H958L856 1114Z" fill="#1a1a1a" stroke="#fff" stroke-width="0.15" vector-effect="non-scaling-stroke"/>
<path transform="translate(573.100,201.000) rotate(-90) scale(0.011436,-0.015330) translate(-63.0,0.0)" d="M336 1409H846Q1055 1409 1175.5 1322.5Q1296 1236 1296 1087Q1296 802 957 743Q1095 720 1171.0 638.5Q1247 557 1247 439Q1247 226 1091.0 113.0Q935 0 658 0H63ZM411 810H742Q1097 810 1097 1068Q1097 1256 829 1256H498ZM283 153H651Q861 153 958.5 226.5Q1056 300 1056 442Q1056 549 976.5 605.0Q897 661 748 661H382Z" fill="#1a1a1a" stroke="#fff" stroke-width="0.4" vector-effect="non-scaling-stroke"/>
<path transform="translate(369.000,324.800) scale(0.013852,-0.015401) translate(-63.0,0.0)" d="M744 1409Q1056 1409 1234.5 1244.5Q1413 1080 1413 791Q1413 555 1310.0 378.0Q1207 201 1013.5 100.5Q820 0 575 0H63L336 1409ZM283 153H567Q762 153 911.0 230.5Q1060 308 1139.5 453.5Q1219 599 1219 793Q1219 1012 1093.0 1134.0Q967 1256 740 1256H498Z" fill="#1a1a1a" stroke="#fff" stroke-width="0.4" vector-effect="non-scaling-stroke"/>
<circle cx="395" cy="307.9" r="3.1" fill="none" stroke="#1a1a1a" stroke-width="1.4"/>
</svg></body></html>
